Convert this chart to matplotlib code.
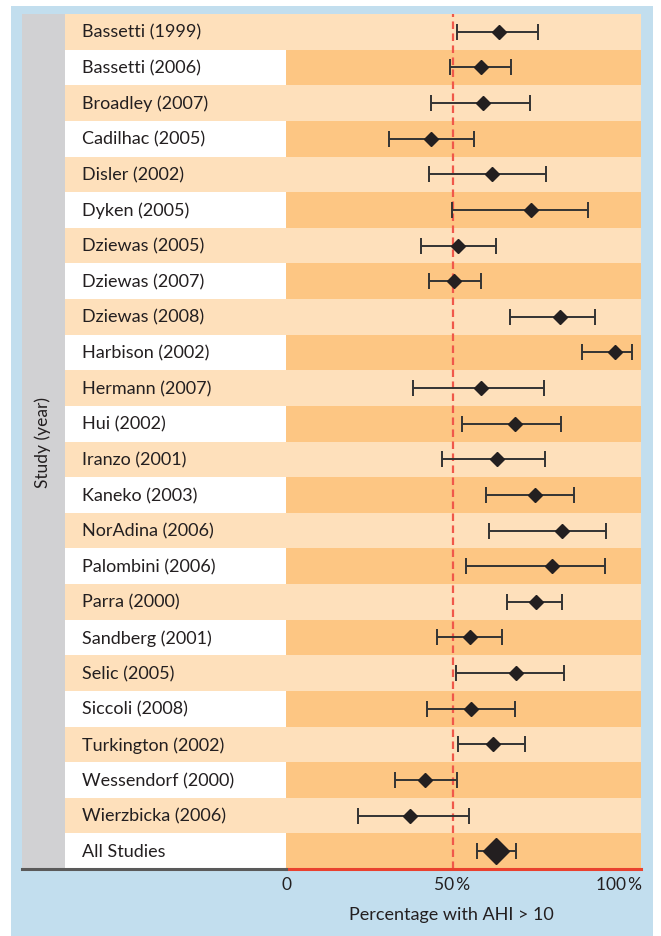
import matplotlib
matplotlib.use('Agg')
import matplotlib.pyplot as plt
from matplotlib.patches import Rectangle
from matplotlib.lines import Line2D

plt.rcParams['font.family'] = ['Lato', 'DejaVu Sans']

# study labels, top to bottom
studies = ['Bassetti (1999)', 'Bassetti (2006)', 'Broadley (2007)', 'Cadilhac (2005)',
           'Disler (2002)', 'Dyken (2005)', 'Dziewas (2005)', 'Dziewas (2007)',
           'Dziewas (2008)', 'Harbison (2002)', 'Hermann (2007)', 'Hui (2002)',
           'Iranzo (2001)', 'Kaneko (2003)', 'NorAdina (2006)', 'Palombini (2006)',
           'Parra (2000)', 'Sandberg (2001)', 'Selic (2005)', 'Siccoli (2008)',
           'Turkington (2002)', 'Wessendorf (2000)', 'Wierzbicka (2006)']
# percentage with AHI > 10 and its confidence interval
estimate = [64.0, 58.5, 59.1, 43.6, 61.8, 73.7, 51.7, 50.3, 82.3, 98.7, 58.6, 68.8,
            63.3, 74.7, 82.8, 79.8, 75.1, 55.2, 69.0, 55.7, 62.2, 41.6, 37.1]
ci_low = [51.2, 49.3, 43.6, 30.9, 42.8, 49.7, 40.5, 42.8, 67.4, 89.0, 38.2, 52.8,
          46.9, 60.1, 60.9, 54.1, 66.4, 45.2, 51.1, 42.4, 51.7, 32.8, 21.5]
ci_high = [75.7, 67.7, 73.3, 56.5, 78.1, 90.7, 63.0, 58.5, 92.9, 103.8, 77.4, 82.5,
           77.9, 86.6, 96.2, 95.9, 82.8, 64.8, 83.4, 68.7, 71.7, 51.4, 54.9]
pooled_label = 'All Studies'
pooled = [63.0]
pooled_low = [57.4]
pooled_high = [69.0]
reference_line = 50
xticks = [0, 50, 100]
xtick_labels = ['0', '50\u2009%', '100\u2009%']

W, H = 661, 937
LIGHT = '#FEE0BB'
DARK = '#FDC683'
BLUE = '#C2DEEE'
GRAY = '#D1D1D3'
RED = '#E9412E'
TEXT = '#231F20'


def box(x0, y0, x1, y1):
    # pixel box -> figure fraction rect
    return [x0 / W, 1 - y1 / H, (x1 - x0) / W, (y1 - y0) / H]


fig = plt.figure(figsize=(W / 100, H / 100), dpi=100)
fig.patch.set_facecolor('white')
fig.patches.append(Rectangle((11 / W, 0), 642 / W, 1 - 7 / H, transform=fig.transFigure,
                             facecolor=BLUE, edgecolor='none', zorder=-10))
fig.patches.append(Rectangle((22 / W, 1 - 870 / H), 43 / W, 855 / H, transform=fig.transFigure,
                             facecolor=GRAY, edgecolor='none', zorder=-9))

labels = studies + [pooled_label]
n = len(labels)

# label column
lab = fig.add_axes(box(65, 15, 286, 870))
lab.set_xlim(0, 1)
lab.set_ylim(n - 0.5, -0.5)
for i, name in enumerate(labels):
    lab.axhspan(i - 0.5, i + 0.5, color=LIGHT if i % 2 == 0 else 'white', lw=0)
    lab.text(17 / 221, i, name, va='center', ha='left', fontsize=13, color=TEXT)
lab.axis('off')

# plot area
ax = fig.add_axes(box(286, 15, 641, 870))
ax.set_xlim(0, 106.6)
ax.set_ylim(n - 0.5, -0.5)
for i in range(n):
    ax.axhspan(i - 0.5, i + 0.5, color=LIGHT if i % 2 == 0 else DARK, lw=0)
ax.axvline(reference_line, color='#F0584A', lw=1.6, dashes=(3.4, 2.0), zorder=2)

rows = list(range(len(studies)))
ax.errorbar(estimate, rows,
            xerr=[[e - lo for e, lo in zip(estimate, ci_low)],
                  [hi - e for e, hi in zip(estimate, ci_high)]],
            fmt='D', ms=7, color='#231F20', ecolor='#333333', elinewidth=1.4,
            capsize=5.5, capthick=1.4, zorder=3)
ax.errorbar(pooled, [n - 1],
            xerr=[[pooled[0] - pooled_low[0]], [pooled_high[0] - pooled[0]]],
            fmt='D', ms=13, color='#231F20', ecolor='#333333', elinewidth=1.4,
            capsize=5.5, capthick=1.4, zorder=3)

for s in ['top', 'left', 'right']:
    ax.spines[s].set_visible(False)
ax.spines['bottom'].set_color(RED)
ax.spines['bottom'].set_linewidth(2.2)
ax.set_yticks([])
ax.set_xticks(xticks)
ax.set_xticklabels(xtick_labels, fontsize=12.5, color=TEXT)
ax.tick_params(axis='x', length=0, pad=5)
ax.set_xlabel('Percentage with AHI > 10', fontsize=13, color=TEXT)
ax.xaxis.set_label_coords((451 - 286) / 355, -(907 - 870) / 855)

# gray base line under the label column
fig.lines.append(Line2D([22 / W, 286 / W], [1 - 870 / H, 1 - 870 / H],
                        transform=fig.transFigure, color='#5A5A5A', lw=2.2))

fig.text(43 / W, 1 - 443 / H, 'Study (year)', rotation=90, ha='center', va='center',
         fontsize=12.5, color=TEXT)

fig.savefig('out.png', dpi=100)
